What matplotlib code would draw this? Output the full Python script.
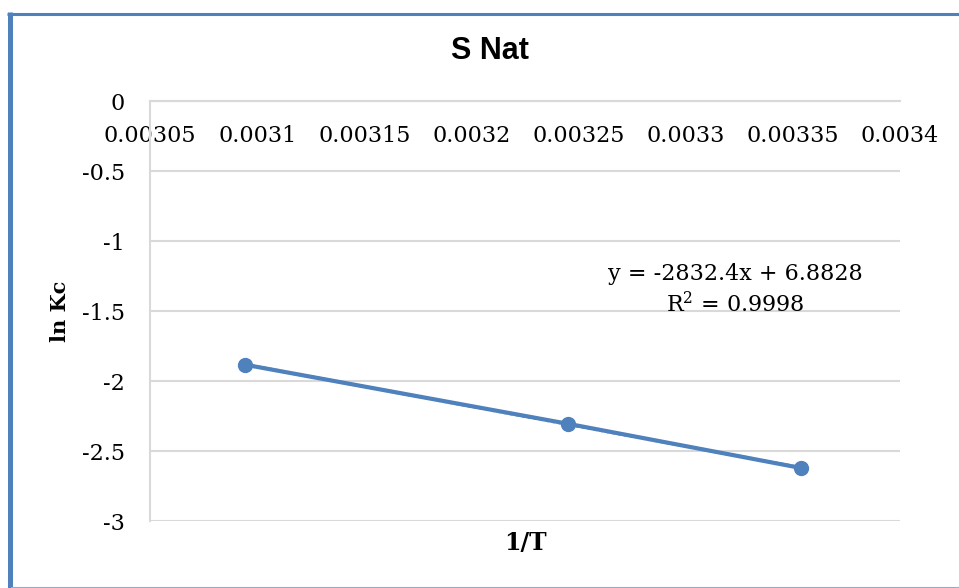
import matplotlib
matplotlib.use("Agg")
import matplotlib.pyplot as plt
from matplotlib.lines import Line2D
import numpy as np

plt.rcParams["axes.unicode_minus"] = False

# Data: inverse temperature vs ln Kc
inv_T = [0.0030945, 0.0032452, 0.0033540]
ln_Kc = [-1.884, -2.306, -2.622]

x_ticks = [0.00305, 0.0031, 0.00315, 0.0032, 0.00325, 0.0033, 0.00335, 0.0034]
x_tick_labels = ["0.00305", "0.0031", "0.00315", "0.0032", "0.00325", "0.0033", "0.00335", "0.0034"]
y_ticks = [0, -0.5, -1, -1.5, -2, -2.5, -3]
y_tick_labels = ["0", "-0.5", "-1", "-1.5", "-2", "-2.5", "-3"]

title = "S Nat"
equation = "y = -2832.4x + 6.8828"
r_squared = "R$^2$ = 0.9998"

blue = "#4F81BD"
grid_grey = "#D9D9D9"
serif = "DejaVu Serif"

fig = plt.figure(figsize=(9.59, 5.88), dpi=100)
ax = fig.add_axes([150 / 959, 1 - 521 / 588, 750 / 959, 420 / 588])

# Horizontal axis crosses at y = 0 (set first: moving a spine resets the ticks)
ax.spines["bottom"].set_position(("data", 0))
ax.spines["bottom"].set_color(grid_grey)
ax.spines["bottom"].set_linewidth(1.5)
ax.spines["left"].set_color(grid_grey)
ax.spines["left"].set_linewidth(1.5)
ax.spines["top"].set_visible(False)
ax.spines["right"].set_visible(False)

# Linear trendline fitted to the data
slope, intercept = np.polyfit(inv_T, ln_Kc, 1)
xs = np.array([min(inv_T), max(inv_T)])
ax.plot(xs, slope * xs + intercept, color=blue, lw=2.2, ls=(0, (1, 1)), zorder=2)

# Data series with connecting lines
ax.plot(inv_T, ln_Kc, color=blue, lw=3, marker="o", markersize=10,
        markeredgecolor=blue, zorder=3, solid_capstyle="round")

ax.set_xlim(0.00305, 0.0034)
ax.set_ylim(-3, 0)
ax.set_xticks(x_ticks)
ax.set_xticklabels(x_tick_labels, fontfamily=serif, fontsize=16)
ax.set_yticks(y_ticks)
ax.set_yticklabels(y_tick_labels, fontfamily=serif, fontsize=16)
ax.tick_params(axis="x", length=0, pad=17, colors="black")
ax.tick_params(axis="y", length=0, pad=18, colors="black")
ax.yaxis.grid(True, color=grid_grey, lw=1.5)
ax.set_axisbelow(True)

fig.text(735 / 959, 1 - 274 / 588, equation, fontfamily=serif, fontsize=16,
         ha="center", va="center")
fig.text(735 / 959, 1 - 305 / 588, r_squared, fontfamily=serif, fontsize=16,
         ha="center", va="center", math_fontfamily="dejavuserif")

fig.text(490 / 959, 1 - 51 / 588, title, fontfamily="Liberation Sans",
         fontweight="bold", fontsize=22, ha="center", va="center")
fig.text(525 / 959, 1 - 543 / 588, "1/T", fontfamily=serif, fontweight="bold",
         fontsize=17, ha="center", va="center")
fig.text(60 / 959, 1 - 311 / 588, "ln Kc", fontfamily=serif, fontweight="bold",
         fontsize=15, ha="center", va="center", rotation=90)

# Frame lines around the chart area
fig.add_artist(Line2D([7 / 959, 1.0], [1 - 13.5 / 588, 1 - 13.5 / 588],
                      transform=fig.transFigure, color=blue, lw=2.2,
                      solid_capstyle="butt"))
fig.add_artist(Line2D([9.5 / 959, 9.5 / 959], [1 - 12 / 588, 0.0],
                      transform=fig.transFigure, color=blue, lw=3.6,
                      solid_capstyle="butt"))
fig.add_artist(Line2D([12 / 959, 1.0], [0.5 / 588, 0.5 / 588],
                      transform=fig.transFigure, color="#8EA9DB", lw=1.5))

fig.savefig("out.png", dpi=100)
